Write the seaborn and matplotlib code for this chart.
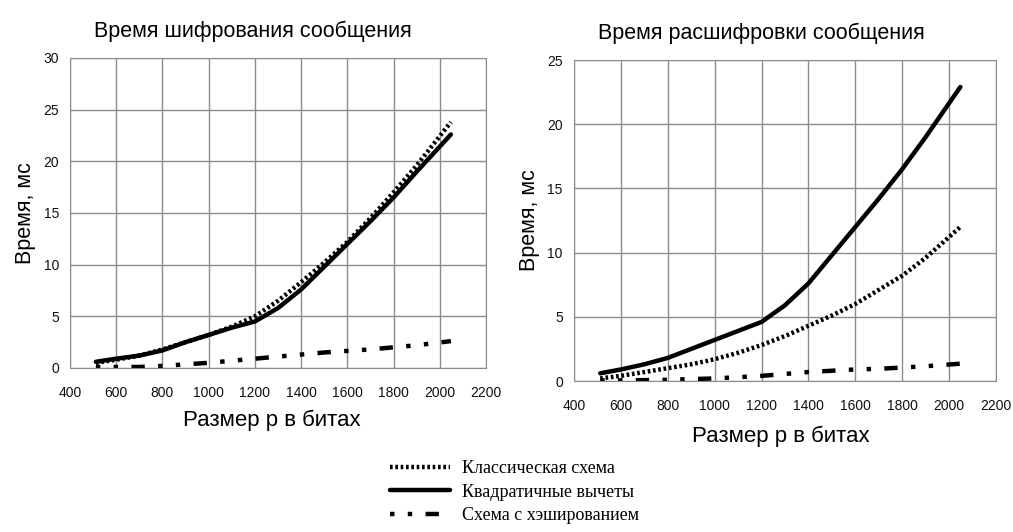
import matplotlib
matplotlib.use("Agg")
import matplotlib.pyplot as plt
import seaborn as sns
import pandas as pd
from matplotlib.lines import Line2D

sizes = [512, 600, 700, 800, 900, 1000, 1100, 1200, 1300, 1400, 1500, 1600, 1700, 1800, 1900, 2048]

enc_classic = [0.5, 0.8, 1.2, 1.8, 2.5, 3.2, 4.0, 5.0, 6.5, 8.3, 10.2, 12.2, 14.5, 17.0, 19.6, 23.8]
enc_quad = [0.6, 0.9, 1.2, 1.7, 2.5, 3.2, 3.9, 4.5, 5.8, 7.6, 9.8, 12.0, 14.2, 16.5, 19.0, 22.6]
enc_hash = [0.1, 0.1, 0.1, 0.2, 0.35, 0.5, 0.7, 0.9, 1.1, 1.3, 1.5, 1.65, 1.8, 2.0, 2.2, 2.6]

dec_classic = [0.2, 0.4, 0.7, 1.0, 1.3, 1.7, 2.2, 2.8, 3.5, 4.3, 5.1, 6.0, 7.1, 8.2, 9.6, 12.0]
dec_quad = [0.6, 0.9, 1.3, 1.8, 2.5, 3.2, 3.9, 4.6, 5.9, 7.6, 9.8, 12.0, 14.2, 16.5, 19.0, 22.9]
dec_hash = [0.05, 0.05, 0.07, 0.1, 0.15, 0.2, 0.3, 0.4, 0.55, 0.7, 0.8, 0.9, 0.95, 1.05, 1.15, 1.35]

series_names = ["Классическая схема", "Квадратичные вычеты", "Схема с хэшированием"]
titles = ["Время шифрования сообщения", "Время расшифровки сообщения"]
xlabel = "Размер p в битах"
ylabel = "Время, мс"

sns.set_style("white")
plt.rcParams['font.family'] = ['Liberation Sans', 'DejaVu Sans']
plt.rcParams['text.color'] = 'black'
plt.rcParams['axes.labelcolor'] = 'black'
plt.rcParams['axes.titlecolor'] = 'black'

styles = {
    series_names[0]: dict(ls=(0, (0.6, 0.6)), lw=3.2),
    series_names[1]: dict(ls='-', lw=3.2),
    series_names[2]: dict(ls=(0, (1, 3, 1, 3, 3, 3)), lw=3.2),
}

fig = plt.figure(figsize=(10.13, 5.32), dpi=100)
ax1 = fig.add_axes([0.0691, 0.3083, 0.4107, 0.5827])
ax2 = fig.add_axes([0.5666, 0.2838, 0.4166, 0.6034])

def draw(ax, classic, quad, hsh, ymax, title, title_x, xlabel_x, xlabel_y):
    df = pd.DataFrame({
        "x": sizes * 3,
        "y": classic + quad + hsh,
        "s": [series_names[0]] * len(sizes) + [series_names[1]] * len(sizes) + [series_names[2]] * len(sizes),
    })
    for name in series_names:
        sub = df[df["s"] == name]
        sns.lineplot(data=sub, x="x", y="y", ax=ax, color="black",
                     linestyle=styles[name]["ls"], linewidth=styles[name]["lw"],
                     legend=False)
    ax.set_xlim(400, 2200)
    ax.set_ylim(0, ymax)
    ax.set_xticks(range(400, 2201, 200))
    ax.set_yticks(range(0, ymax + 1, 5))
    ax.grid(True, color="#8c8c8c", linewidth=1.0)
    for sp in ax.spines.values():
        sp.set_color("#8c8c8c")
        sp.set_visible(True)
    ax.tick_params(axis='both', length=5, color="#8c8c8c", labelcolor="#111111",
                   labelsize=10, pad=3, direction='out')
    ax.tick_params(axis='x', pad=8)
    ax.set_title(title, fontsize=15.5, pad=15, x=title_x)
    ax.set_xlabel(xlabel, fontsize=16)
    ax.xaxis.set_label_coords(xlabel_x, xlabel_y)
    ax.set_ylabel(ylabel, fontsize=15.5, labelpad=5)

draw(ax1, enc_classic, enc_quad, enc_hash, 30, titles[0], 0.44, 0.485, -0.135)
draw(ax2, dec_classic, dec_quad, dec_hash, 25, titles[1], 0.443, 0.49, -0.138)

handles = [Line2D([0], [0], color="black", linestyle=styles[n]["ls"], linewidth=styles[n]["lw"]) for n in series_names]
fig.legend(handles, series_names, loc="center", bbox_to_anchor=(0.508, 0.075), frameon=False,
           prop={"family": "Liberation Serif", "size": 13}, handlelength=3.3, handletextpad=0.7,
           labelspacing=0.35)

fig.savefig("out.png", dpi=100)
